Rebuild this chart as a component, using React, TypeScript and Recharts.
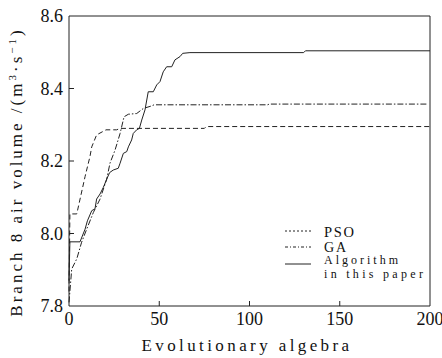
import React from 'react';
import { LineChart, Line, XAxis, YAxis, ReferenceLine, Legend } from 'recharts';

const psoX = [0, 0.5, 4.3, 8.9, 11.6, 12.6, 15.3, 20.5, 26.4, 28.3, 75, 76, 200];
const psoY = [7.84, 8.054, 8.054, 8.157, 8.212, 8.239, 8.272, 8.286, 8.286, 8.290, 8.290, 8.295, 8.295];

const gaX = [0, 1.5, 4.3, 7.0, 9.8, 13.5, 17.2, 20.9, 22.7, 25.5, 28.3, 30.5, 32.9, 37.5, 41.2, 45.8, 47.1, 110, 111, 198];
const gaY = [7.81, 7.902, 7.930, 7.976, 8.012, 8.058, 8.095, 8.150, 8.194, 8.230, 8.276, 8.322, 8.329, 8.331, 8.345, 8.352, 8.355, 8.355, 8.357, 8.357];

const algX = [0, 0.5, 6.1, 8.9, 10.2, 12.6, 14.4, 15.3, 17.2, 19.0, 20.9, 22.5, 24.5, 27.3, 28.3, 30.1, 32.0, 32.9, 34.7, 35.6, 37.5, 39.0, 40.3, 42.1, 43.9, 46.7, 48.6, 50.4, 52.2, 54.1, 56.9, 58.7, 61.5, 63.0, 67.0, 130, 131, 200];
const algY = [7.87, 7.977, 7.977, 8.012, 8.035, 8.063, 8.068, 8.095, 8.109, 8.127, 8.150, 8.168, 8.175, 8.180, 8.194, 8.221, 8.226, 8.239, 8.258, 8.276, 8.286, 8.290, 8.313, 8.341, 8.391, 8.391, 8.410, 8.419, 8.446, 8.460, 8.460, 8.479, 8.488, 8.497, 8.499, 8.499, 8.504, 8.504];

const xTicks = [0, 50, 100, 150, 200];
const yTicks = [7.8, 8.0, 8.2, 8.4, 8.6];

const seriesNames = ['PSO', 'GA', 'Algorithm in this paper'];
const xTitle = 'Evolutionary algebra';
const yTitle = 'Branch 8 air volume ';

const toData = (xs: number[], ys: number[]) => xs.map((x, i) => ({ x, y: ys[i] }));
const psoData = toData(psoX, psoY);
const gaData = toData(gaX, gaY);
const algData = toData(algX, algY);

const FONT = "'Liberation Serif', 'Times New Roman', serif";
const INK = '#222';
const txt = (size: number, spacing = 0): React.CSSProperties => ({ fontFamily: FONT, fontSize: size, letterSpacing: spacing, fill: '#111' });

const XTick = (props: any) => {
  const { x, y, payload } = props;
  const v = payload.value;
  return (
    <g>
      <text x={x} y={y + 19} textAnchor="middle" style={txt(18)}>{v}</text>
      {v > 0 && v < 200 && <line x1={x} y1={y} x2={x} y2={y - 5} stroke={INK} strokeWidth={1} />}
    </g>
  );
};

const YTick = (props: any) => {
  const { x, y, payload } = props;
  const v = payload.value;
  return (
    <g>
      <text x={x - 6} y={y + 6} textAnchor="end" style={txt(18)}>{v.toFixed(1)}</text>
      {v > 7.85 && v < 8.55 && <line x1={x} y1={y} x2={x + 5} y2={y} stroke={INK} strokeWidth={1} />}
    </g>
  );
};

const YTitle = () => (
  <text transform="translate(22,172) rotate(-90)" textAnchor="middle" style={txt(17, 3)}>
    {yTitle}
    <tspan>/(m</tspan>
    <tspan dy={-6} style={{ fontSize: 11 }}>3</tspan>
    <tspan dy={6}>·s</tspan>
    <tspan dy={-6} style={{ fontSize: 11 }}>−1</tspan>
    <tspan dy={6}>)</tspan>
  </text>
);

const XTitle = () => (
  <text x={247} y={351} textAnchor="middle" style={txt(17, 3.4)}>{xTitle}</text>
);

const LegendBox = () => (
  <svg width={150} height={62} style={{ display: 'block' }}>
    <line x1={2} y1={9} x2={28} y2={9} stroke={INK} strokeDasharray="2 2" />
    <text x={41} y={15} style={txt(14.5, 1.7)}>{seriesNames[0]}</text>
    <line x1={2} y1={25} x2={28} y2={25} stroke={INK} strokeDasharray="3 2 1 2" />
    <text x={41} y={29.5} style={txt(14, 1.8)}>{seriesNames[1]}</text>
    <line x1={2} y1={42} x2={28} y2={42} stroke={INK} />
    <text x={41} y={42} style={txt(12, 3)}>Algorithm</text>
    <text x={41} y={55.5} style={txt(12, 3.3)}>in this paper</text>
  </svg>
);

export default function App() {
  return (
    <div style={{ position: 'absolute', left: 0, top: 0, width: 442, height: 358, background: '#fff' }}>
      <LineChart width={442} height={358} margin={{ top: 16, right: 12, bottom: 0, left: 0 }}>
        <XAxis
          dataKey="x"
          type="number"
          domain={[0, 200]}
          ticks={xTicks}
          allowDuplicatedCategory={false}
          height={52}
          tickSize={0}
          tickMargin={0}
          tickLine={false}
          axisLine={{ stroke: INK }}
          tick={<XTick />}
          label={<XTitle />}
        />
        <YAxis
          type="number"
          domain={[7.8, 8.6]}
          ticks={yTicks}
          width={69}
          tickSize={0}
          tickMargin={0}
          tickLine={false}
          axisLine={{ stroke: INK }}
          tick={<YTick />}
          label={<YTitle />}
          allowDataOverflow
        />
        <ReferenceLine y={8.6} stroke={INK} />
        <ReferenceLine x={200} stroke={INK} />
        <Line data={psoData} dataKey="y" name={seriesNames[0]} stroke={INK} strokeWidth={1} strokeDasharray="5 3" dot={false} isAnimationActive={false} type="linear" />
        <Line data={gaData} dataKey="y" name={seriesNames[1]} stroke={INK} strokeWidth={1} strokeDasharray="6 2 1.5 2" dot={false} isAnimationActive={false} type="linear" />
        <Line data={algData} dataKey="y" name={seriesNames[2]} stroke={INK} strokeWidth={1} dot={false} isAnimationActive={false} type="linear" />
        <Legend verticalAlign="middle" align="center" layout="horizontal" content={<LegendBox />} wrapperStyle={{ position: 'absolute', left: 283, top: 222, width: 150 }} />
      </LineChart>
    </div>
  );
}
